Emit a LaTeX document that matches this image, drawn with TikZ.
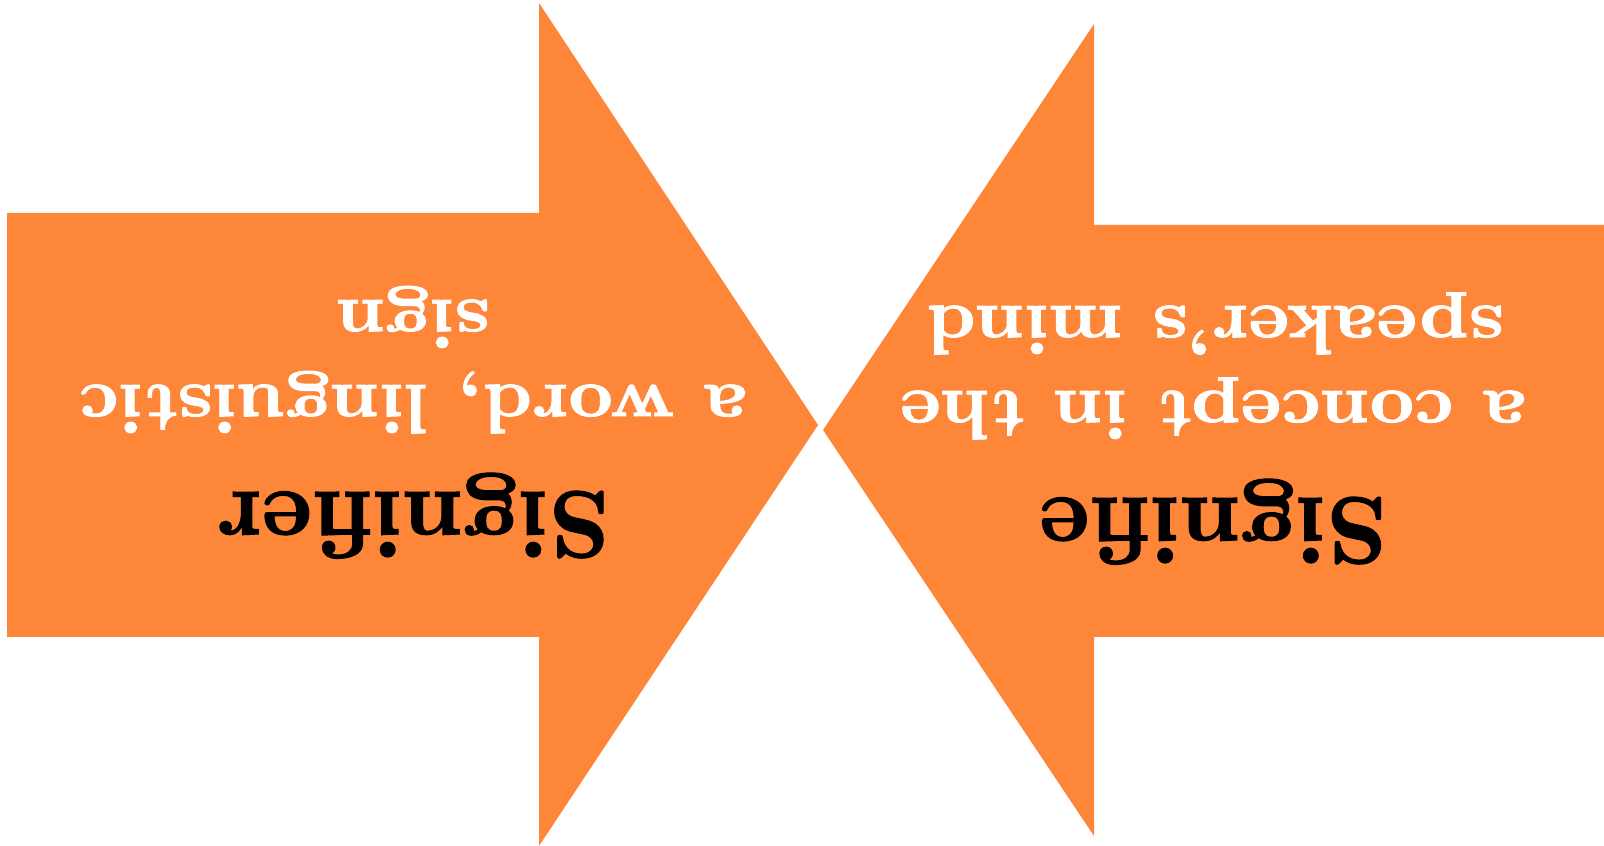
\documentclass[tikz,border=0pt]{standalone}
\usepackage{fontspec}
\usepackage{xcolor}
\usepackage{tikz}
\usetikzlibrary{positioning}

\newfontfamily\heavyserif{lmroman10-bold.otf}[FakeBold=1.2]
\definecolor{arroworange}{RGB}{253,134,56}

\begin{document}
\begin{tikzpicture}[
    x=1pt, y=1pt,
    arrowshape/.style={fill=arroworange, draw=none},
    titletext/.style={rotate=180, anchor=base, inner sep=0pt, text=black, font=\heavyserif\fontsize{95}{110}\selectfont},
    bodytext/.style={rotate=180, anchor=base, inner sep=0pt, text=white, font=\heavyserif\fontsize{70}{80}\selectfont, xscale=1.1}
]
\useasboundingbox (0,0) rectangle (1604,846);

% left arrow
\fill[arrowshape] (7,209) -- (7,633) -- (539,633) -- (539,843) -- (818,421) -- (539,0) -- (539,209) -- cycle;
% right arrow
\fill[arrowshape] (1604,209) -- (1604,621) -- (1094,621) -- (1094,822) -- (823,416) -- (1094,10) -- (1094,209) -- cycle;

\node[titletext] (signifier) at (413,354) {Signifier};
\node[bodytext] (signifierA) at (413,461) {a word, linguistic};
\node[bodytext] (signifierB) at (413,546) {sign};

\node[titletext] (signified) at (1213,348) {Signifie};
\node[bodytext] (signifiedA) at (1213,455) {a concept in the};
\node[bodytext] (signifiedB) at (1215,540) {speaker’s mind};
\end{tikzpicture}
\end{document}
